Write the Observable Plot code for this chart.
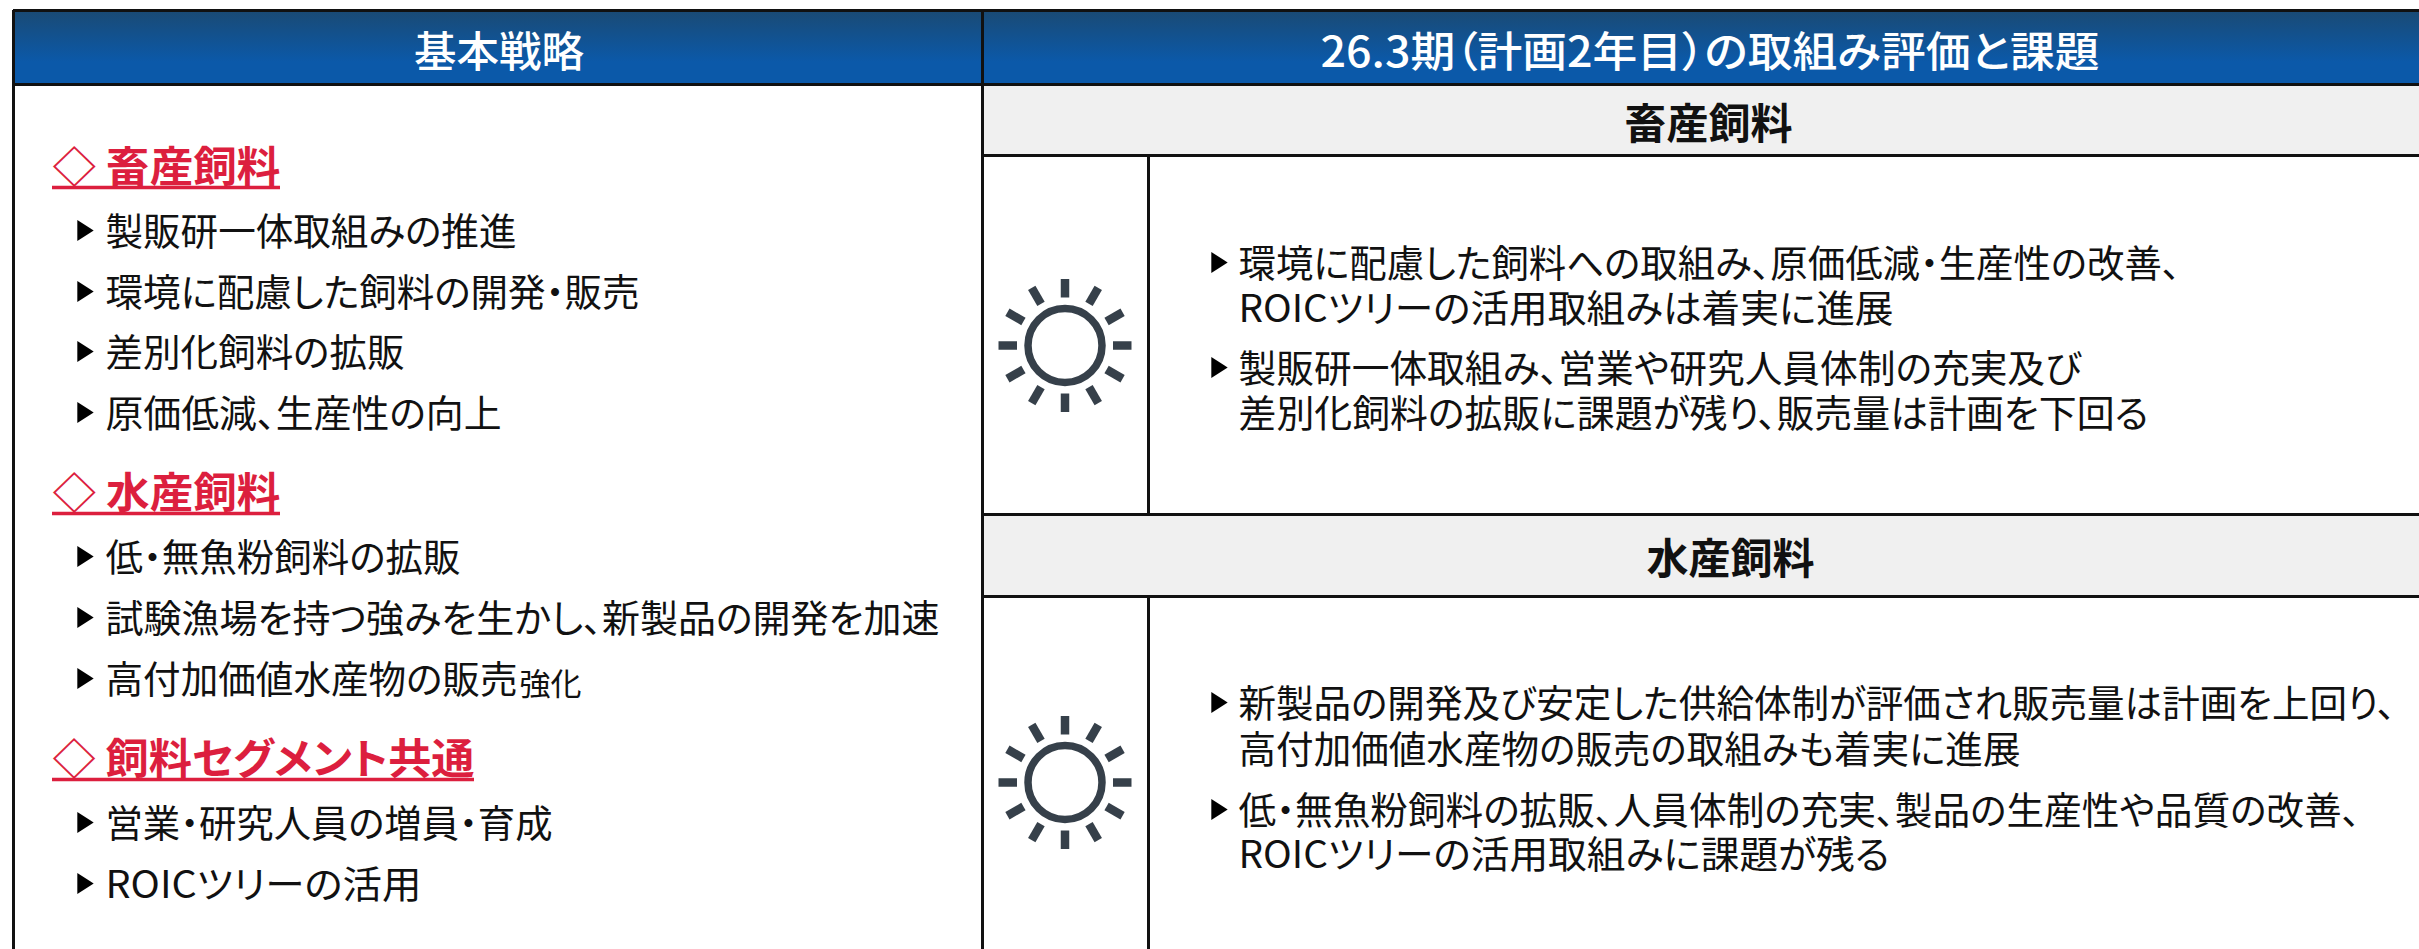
<!DOCTYPE html>
<html lang="ja">
<head>
<meta charset="utf-8">
<title>基本戦略</title>
<script src="https://cdn.jsdelivr.net/npm/d3@7"></script>
<script src="https://cdn.jsdelivr.net/npm/@observablehq/plot@0.6"></script>
<style>
html,body{margin:0;padding:0;background:#fff}
svg{display:block}
svg text{font-feature-settings:"palt" 1}
</style>
</head>
<body>
<div id="chart"></div>
<script>
// ---- content ----
const headerLabels = ["基本戦略", "26.3期（計画2年目）の取組み評価と課題"];
const sectionLabels = ["畜産飼料", "水産飼料"];
const strategyHeadings = ["◇ 畜産飼料", "◇ 水産飼料", "◇ 飼料セグメント共通"];
const strategyItems = [
  "製販研一体取組みの推進", "環境に配慮した飼料の開発・販売", "差別化飼料の拡販", "原価低減、生産性の向上",
  "低・無魚粉飼料の拡販", "試験漁場を持つ強みを生かし、新製品の開発を加速", "高付加価値水産物の販売",
  "営業・研究人員の増員・育成", "ROICツリーの活用"
];
const smallRun = "強化";
const reviewLines = [
  "環境に配慮した飼料への取組み、原価低減・生産性の改善、", "ROICツリーの活用取組みは着実に進展",
  "製販研一体取組み、営業や研究人員体制の充実及び", "差別化飼料の拡販に課題が残り、販売量は計画を下回る",
  "新製品の開発及び安定した供給体制が評価され販売量は計画を上回り、", "高付加価値水産物の販売の取組みも着実に進展",
  "低・無魚粉飼料の拡販、人員体制の充実、製品の生産性や品質の改善、", "ROICツリーの活用取組みに課題が残る"
];
const reviewBulleted = [true, false, true, false, true, false, true, false];

// ---- layout (in the plot's page-sized scale units) ----
const W = 2419, H = 949;
const colX = [13, 982, 1148, W];
const rowY = [10, 84, 155, 514, 596, H];
const headerX = [498.5, 1709.5];
const headerW = [170, 779];
const sectionX = [1708, 1730];
const sectionY = [123, 558];
const headingY = [166, 492, 758];
const headingW = [228, 228, 422];
const headingRight = [280, 280, 474];
const itemY = [230, 291, 351, 412, 556, 617, 678, 822, 883];
const itemW = [411, 534, 299, 396, 355, 834, 412, 447, 316];
const reviewY = [262, 307, 367, 412, 702, 748, 809, 853];
const reviewW = [942, 655, 843, 910, 1157, 782, 1122, 651];
const sunY = [345, 782];
const rayAngles = d3.range(0, 360, 30);

const font = `"Noto Sans CJK JP","Noto Sans",sans-serif`;
const ink = "#111";
const red = "#dc1f3e";
const sun = "#36404a";
const triangle = {draw(c, size) {
  const r = Math.sqrt(size / Math.PI);
  c.moveTo(-0.78 * r, -r); c.lineTo(0.78 * r, 0); c.lineTo(-0.78 * r, r); c.closePath();
}};

const items = strategyItems.map((t, i) => ({t, y: itemY[i]}));
const reviews = reviewLines.map((t, i) => ({t, y: reviewY[i], b: reviewBulleted[i]}));
const rays = sunY.flatMap(cy => rayAngles.map(a => {
  const q = a * Math.PI / 180;
  return {x1: 1064.5 + 48 * Math.cos(q), y1: cy + 48 * Math.sin(q), x2: 1064.5 + 66.5 * Math.cos(q), y2: cy + 66.5 * Math.sin(q)};
}));

const gradient = () => {
  const defs = d3.create("svg:defs");
  const g = defs.append("linearGradient").attr("id", "hdr").attr("x1", 0).attr("x2", 0).attr("y1", 0).attr("y2", 1);
  g.append("stop").attr("offset", "0%").attr("stop-color", "#1a4a74");
  g.append("stop").attr("offset", "70%").attr("stop-color", "#0b59a9");
  g.append("stop").attr("offset", "100%").attr("stop-color", "#0b59a9");
  return defs.node();
};

const chart = Plot.plot({
  width: W, height: H, margin: 0,
  x: {domain: [0, W], range: [0, W], axis: null},
  y: {domain: [0, H], range: [0, H], axis: null},
  style: {fontFamily: font, background: "#fff", color: ink},
  marks: [
    gradient,
    Plot.rect([0], {x1: colX[0], x2: W, y1: rowY[0], y2: rowY[1], fill: "url(#hdr)"}),
    Plot.rect(sectionY, {x1: colX[1], x2: W, y1: (d, i) => rowY[i * 2 + 1], y2: (d, i) => rowY[i * 2 + 2], fill: "#f0f0f0"}),
    Plot.ruleY([rowY[0], rowY[1]], {x1: colX[0], x2: W, stroke: ink, strokeWidth: 3}),
    Plot.ruleY([rowY[2], rowY[3], rowY[4]], {x1: colX[1], x2: W, stroke: ink, strokeWidth: 3}),
    Plot.ruleX([colX[0], colX[1]], {y1: rowY[0], y2: H, stroke: ink, strokeWidth: 3}),
    Plot.ruleX([colX[2]], {y1: rowY[2], y2: rowY[3], stroke: ink, strokeWidth: 3}),
    Plot.ruleX([colX[2]], {y1: rowY[4], y2: H, stroke: ink, strokeWidth: 3}),

    Plot.text(headerLabels, {className: "fit-header", x: (d, i) => headerX[i], y: 51, dy: 2, text: d => d, fill: "#fff", fontSize: 42, fontWeight: 500, textAnchor: "middle", lineAnchor: "middle"}),
    Plot.text(sectionLabels, {x: (d, i) => sectionX[i], y: (d, i) => sectionY[i], dy: 2, text: d => d, fill: "#111", fontSize: 42, fontWeight: 700, textAnchor: "middle", lineAnchor: "middle"}),

    Plot.text(strategyHeadings, {className: "fit-heading", x: 52, y: (d, i) => headingY[i], dy: 2, text: d => d, fill: red, fontSize: 42, fontWeight: 700, textAnchor: "start", lineAnchor: "middle"}),
    Plot.ruleY(headingY, {x1: 52, x2: (d, i) => headingRight[i], y: d => d + 21, stroke: red, strokeWidth: 3.5}),

    Plot.dot(items, {x: 85, y: "y", symbol: triangle, r: 10.5, fill: "#000", stroke: "none"}),
    Plot.text(items, {className: "fit-item", x: 105, y: "y", dy: 2, text: "t", fill: "#111", fontSize: 37.5, textAnchor: "start", lineAnchor: "middle"}),
    Plot.text([smallRun], {x: 519, y: 683, dy: 1.5, text: d => d, fill: "#111", fontSize: 31, textAnchor: "start", lineAnchor: "middle"}),

    Plot.link(rays, {x1: "x1", y1: "y1", x2: "x2", y2: "y2", stroke: sun, strokeWidth: 8.5}),
    Plot.dot(sunY, {x: 1064.5, y: d => d, r: 37, stroke: sun, strokeWidth: 7.5, fill: "none"}),

    Plot.dot(reviews.filter(d => d.b), {x: 1219, y: "y", symbol: triangle, r: 10.5, fill: "#000", stroke: "none"}),
    Plot.text(reviews, {className: "fit-review", x: 1238, y: "y", dy: 2, text: "t", fill: "#111", fontSize: 37.5, textAnchor: "start", lineAnchor: "middle"})
  ]
});

// match each line's measured run length
const fit = (cls, widths) => d3.select(chart).selectAll(`g.${cls} text`)
  .attr("textLength", (d, i) => widths[i]).attr("lengthAdjust", "spacingAndGlyphs");
fit("fit-header", headerW);
fit("fit-heading", headingW);
fit("fit-item", itemW);
fit("fit-review", reviewW);

document.getElementById("chart").append(chart);
</script>
</body>
</html>
